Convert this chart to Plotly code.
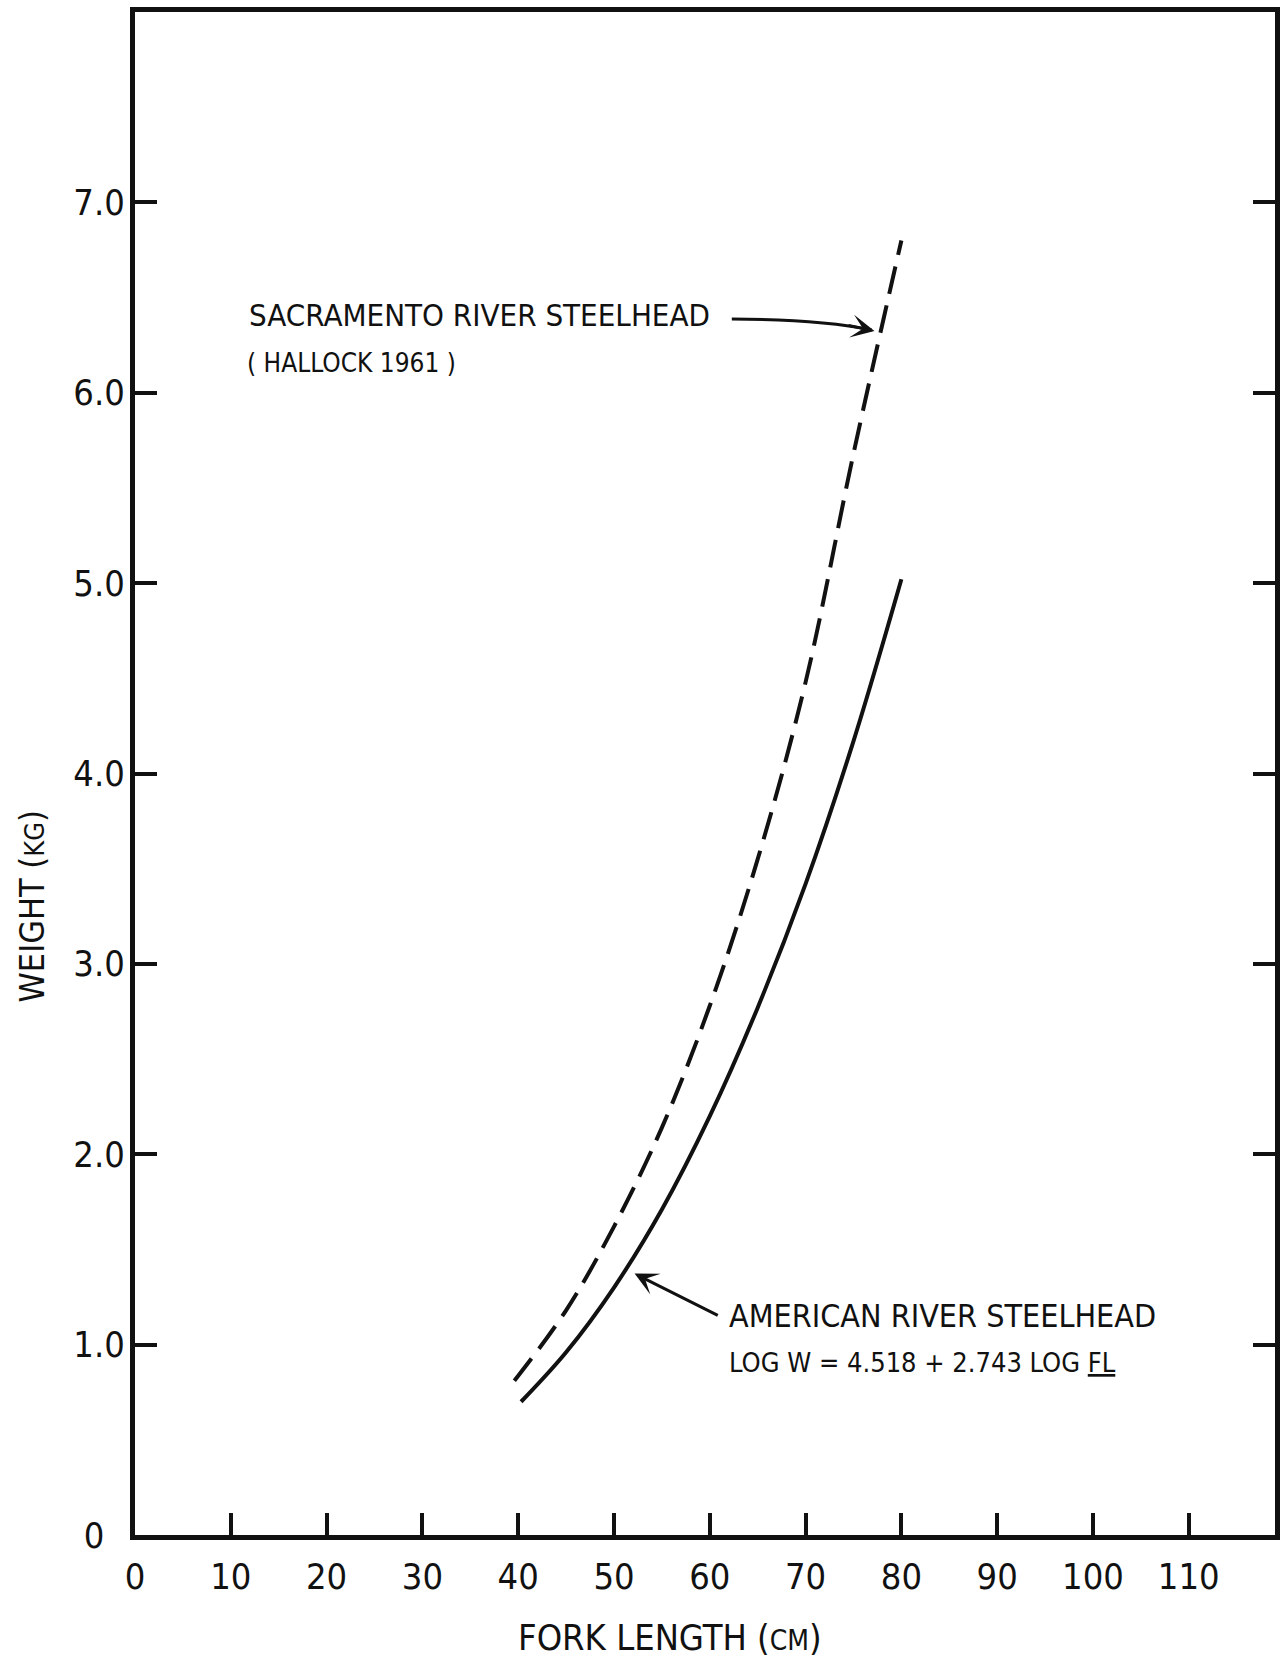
import plotly.graph_objects as go

# ---- data ----
sac_length = [39.6, 45, 50, 55, 60, 65, 70, 75, 80]
sac_weight = [0.81, 1.18, 1.62, 2.14, 2.78, 3.55, 4.48, 5.68, 6.80]

amer_length = [40.3, 45, 50, 55, 60, 65, 70, 75, 80]
amer_weight = [0.70, 0.96, 1.30, 1.71, 2.20, 2.77, 3.42, 4.17, 5.02]

x_tickvals = [0, 10, 20, 30, 40, 50, 60, 70, 80, 90, 100, 110]
x_ticktext = ["0", "10", "20", "30", "40", "50", "60", "70", "80", "90", "100", "110"]
y_tickvals = [0, 1, 2, 3, 4, 5, 6, 7]
y_ticktext = ["0\u00a0\u00a0", "1.0", "2.0", "3.0", "4.0", "5.0", "6.0", "7.0"]

FONT = "Liberation Sans Narrow, DejaVu Sans Condensed, Arial Narrow, sans-serif"
INK = "#111111"

fig = go.Figure()
fig.add_trace(go.Scatter(x=sac_length, y=sac_weight, mode="lines",
                         line=dict(color=INK, width=4, dash="28px,12px", shape="spline"),
                         showlegend=False, hoverinfo="skip"))
fig.add_trace(go.Scatter(x=amer_length, y=amer_weight, mode="lines",
                         line=dict(color=INK, width=4, shape="spline"),
                         showlegend=False, hoverinfo="skip"))

# curved shaft of the Sacramento arrow
fig.add_shape(type="path", xref="x", yref="y",
              path="M 62.3,6.387 Q 71.45,6.387 76.9,6.330",
              line=dict(color=INK, width=3))

annots = [
    dict(x=77.19, y=6.324, xref="x", yref="y", text="", showarrow=True,
         ax=-27.5, ay=-6, arrowhead=3, arrowsize=1.3, arrowwidth=3, arrowcolor=INK),
    dict(x=52.15, y=1.373, xref="x", yref="y", text="", showarrow=True,
         ax=60.99, ay=1.150, axref="x", ayref="y",
         arrowhead=3, arrowsize=1.3, arrowwidth=3, arrowcolor=INK),
    dict(x=11.68, y=6.41, xref="x", yref="y", text="SACRAMENTO RIVER STEELHEAD",
         showarrow=False, xanchor="left", yanchor="middle",
         font=dict(family=FONT, size=31, color=INK)),
    dict(x=11.53, y=6.156, xref="x", yref="y", text="( HALLOCK 1961 )",
         showarrow=False, xanchor="left", yanchor="middle",
         font=dict(family=FONT, size=26, color=INK)),
    dict(x=61.75, y=1.153, xref="x", yref="y", text="AMERICAN RIVER STEELHEAD",
         showarrow=False, xanchor="left", yanchor="middle",
         font=dict(family=FONT, size=32, color=INK)),
    dict(x=61.75, y=0.906, xref="x", yref="y",
         text="LOG W = 4.518 + 2.743 LOG <u>FL</u>",
         showarrow=False, xanchor="left", yanchor="middle",
         font=dict(family=FONT, size=27, color=INK)),
    dict(x=0.469, y=-0.0675, xref="paper", yref="paper",
         text="FORK LENGTH (<span style='font-size:28px'>CM</span>)",
         showarrow=False, xanchor="center", yanchor="middle",
         font=dict(family=FONT, size=36, color=INK)),
    dict(x=-0.090, y=0.413, xref="paper", yref="paper",
         text="WEIGHT (<span style='font-size:27px'>KG</span>)",
         showarrow=False, xanchor="center", yanchor="middle", textangle=-90,
         font=dict(family=FONT, size=34, color=INK)),
]

fig.update_layout(
    width=1287, height=1660,
    margin=dict(l=135, r=7, t=10, b=125),
    paper_bgcolor="white", plot_bgcolor="white",
    annotations=annots,
    xaxis=dict(range=[0, 119.0], tickvals=x_tickvals, ticktext=x_ticktext,
               ticks="inside", ticklen=22, tickwidth=4, tickcolor=INK,
               showline=True, linewidth=5, linecolor=INK, mirror=True,
               showgrid=False, zeroline=False, ticklabelstandoff=6,
               tickfont=dict(family=FONT, size=36, color=INK)),
    yaxis=dict(range=[0, 8.0], tickvals=y_tickvals, ticktext=y_ticktext,
               ticks="inside", ticklen=22, tickwidth=4, tickcolor=INK,
               showline=True, linewidth=5, linecolor=INK, mirror="ticks",
               showgrid=False, zeroline=False, ticklabelstandoff=-2,
               tickfont=dict(family=FONT, size=36, color=INK)),
)

fig.write_html("out.html", config={"displayModeBar": False},
               post_script="document.body.style.margin='0';document.body.style.overflow='hidden';")
